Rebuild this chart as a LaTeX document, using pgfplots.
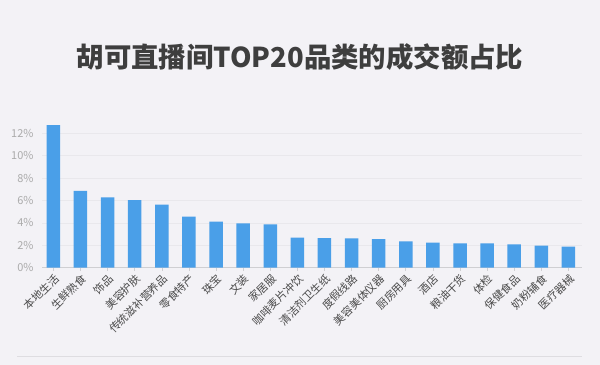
\documentclass[border=0pt]{standalone}
\usepackage{fontspec}
\setmainfont{Noto Sans CJK SC}
\usepackage{pgfplots}
\pgfplotsset{compat=1.18}
\definecolor{bg}{HTML}{F3F2F6}
\definecolor{barc}{HTML}{4A9FE8}
\definecolor{titlec}{HTML}{3E3E3E}
\definecolor{labc}{HTML}{4A4A4A}
\definecolor{tickc}{HTML}{ABABAB}
\definecolor{gridc}{HTML}{E9E8EC}
\definecolor{axc}{HTML}{CFCFD2}
\definecolor{linec}{HTML}{DEDDE1}
\begin{document}
\begin{tikzpicture}
\useasboundingbox (0,0) rectangle (600bp,365bp);
\fill[bg] (0,0) rectangle (600bp,365bp);
\node[font=\fontsize{27.5}{30}\selectfont\bfseries, text=titlec] at (300bp,308bp) {胡可直播间TOP20品类的成交额占比};
\draw[linec, line width=1bp] (17bp,8bp) -- (582bp,8bp);
\begin{axis}[
  at={(42bp,97.3bp)}, anchor=south west,
  scale only axis, width=540bp, height=145.6bp,
  xmin=-0.42, xmax=19.5, ymin=0, ymax=13,
  axis lines*=left,
  x axis line style={draw=axc, line width=0.8bp},
  y axis line style={draw=none},
  ymajorgrids, grid style={draw=gridc, line width=0.6bp},
  ytick={0,2,4,6,8,10,12},
  yticklabel={\pgfmathprintnumber{\tick}\%},
  /pgf/number format/assume math mode=true,
  ytick style={draw=none},
  yticklabel style={font=\fontsize{11}{12}\selectfont, text=tickc, xshift=-2bp},
  xtick={0,...,19},
  xticklabels={本地生活,生鲜熟食,饰品,美容护肤,传统滋补营养品,零食特产,珠宝,文装,家居服,咖啡麦片冲饮,清洁剂卫生纸,度假线路,美容美体仪器,厨房用具,酒店,粮油干货,体检,保健食品,奶粉辅食,医疗器械},
  xtick style={draw=axc, line width=0.6bp},
  tick align=outside, major tick length=3bp,
  xticklabel style={rotate=45, anchor=north east, font=\fontsize{11}{12}\selectfont, text=labc, inner sep=1.5bp},
]
\addplot[ybar, bar width=13.5bp, fill=barc, draw=none] coordinates {
(0,12.72) (1,6.85) (2,6.29) (3,6.04) (4,5.63) (5,4.55) (6,4.11) (7,3.96) (8,3.87) (9,2.68)
(10,2.65) (11,2.62) (12,2.56) (13,2.35) (14,2.23) (15,2.18) (16,2.18) (17,2.09) (18,1.96) (19,1.88)};
\end{axis}
\end{tikzpicture}
\end{document}
